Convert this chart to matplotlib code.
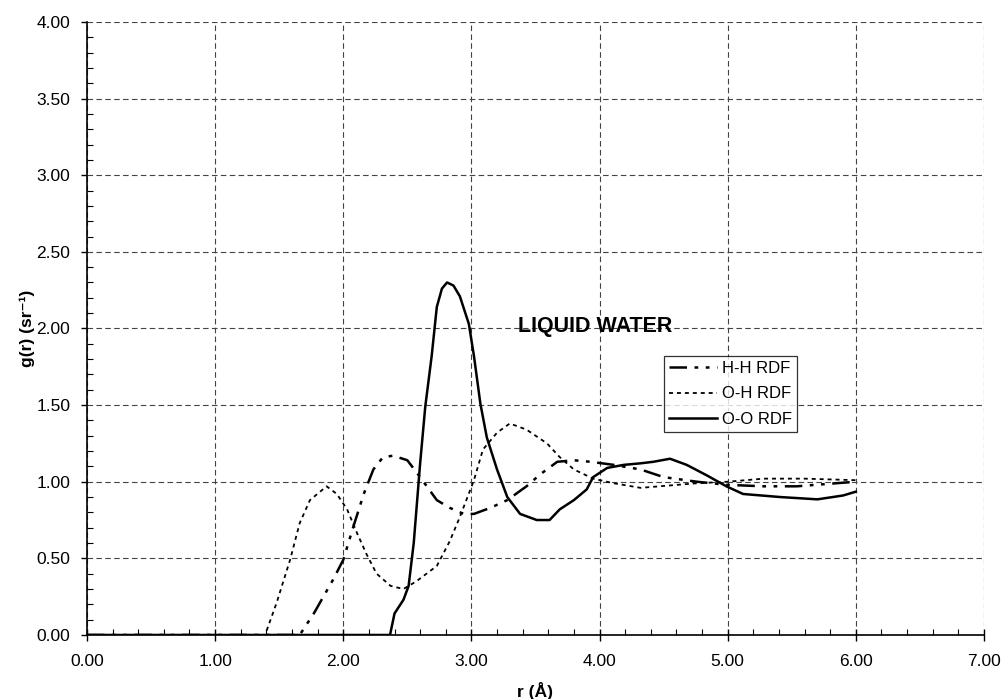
import matplotlib
matplotlib.use("Agg")
import matplotlib.pyplot as plt
from matplotlib.ticker import MultipleLocator, FormatStrFormatter

plt.rcParams['font.family'] = ['Liberation Sans', 'DejaVu Sans']

# H-H radial distribution function
hh_r = [0.0, 1.66, 1.77, 1.845, 1.92, 2.00, 2.08, 2.16, 2.235, 2.31, 2.39, 2.50, 2.60, 2.73,
        2.83, 2.94, 3.02, 3.15, 3.28, 3.43, 3.54, 3.67, 3.80, 3.93, 4.11, 4.32, 4.50, 4.76,
        4.99, 5.28, 5.54, 6.00]
hh_g = [0.0, 0.0, 0.14, 0.25, 0.36, 0.49, 0.71, 0.92, 1.08, 1.16, 1.17, 1.14, 1.03, 0.88,
        0.83, 0.79, 0.79, 0.83, 0.88, 0.97, 1.05, 1.13, 1.14, 1.13, 1.11, 1.08, 1.03, 1.00,
        0.98, 0.97, 0.97, 1.00]

# O-H radial distribution function
oh_r = [0.0, 1.39, 1.48, 1.585, 1.66, 1.74, 1.87, 1.95, 2.03, 2.11, 2.18, 2.26, 2.37, 2.47,
        2.57, 2.73, 2.83, 2.91, 3.02, 3.09, 3.20, 3.30, 3.43, 3.59, 3.69, 3.80, 3.95, 4.11,
        4.32, 4.76, 5.00, 5.28, 5.60, 6.00]
oh_g = [0.0, 0.0, 0.21, 0.49, 0.73, 0.88, 0.97, 0.92, 0.82, 0.66, 0.53, 0.40, 0.32, 0.30,
        0.35, 0.45, 0.61, 0.77, 1.01, 1.21, 1.32, 1.38, 1.34, 1.25, 1.16, 1.08, 1.02, 0.99,
        0.96, 0.99, 1.00, 1.02, 1.02, 1.01]

# O-O radial distribution function
oo_r = [0.0, 2.365, 2.40, 2.47, 2.51, 2.55, 2.60, 2.64, 2.69, 2.73, 2.77, 2.81, 2.86, 2.91,
        2.98, 3.02, 3.07, 3.12, 3.20, 3.28, 3.38, 3.51, 3.61, 3.69, 3.80, 3.90, 3.95, 4.06,
        4.19, 4.32, 4.42, 4.55, 4.68, 4.84, 4.99, 5.12, 5.41, 5.70, 5.90, 6.00]
oo_g = [0.0, 0.0, 0.14, 0.23, 0.32, 0.60, 1.12, 1.49, 1.82, 2.14, 2.26, 2.30, 2.28, 2.21,
        2.03, 1.82, 1.51, 1.29, 1.08, 0.90, 0.79, 0.75, 0.75, 0.82, 0.88, 0.95, 1.03, 1.09,
        1.11, 1.12, 1.13, 1.15, 1.11, 1.04, 0.97, 0.92, 0.90, 0.885, 0.91, 0.935]

fig = plt.figure(figsize=(10.02, 6.99), dpi=100)
ax = fig.add_axes([0.0868, 0.0916, 0.8952, 0.877])

ax.plot(hh_r, hh_g, color='black', lw=1.8, dashes=(7, 3, 1.5, 3, 1.5, 3), label='H-H RDF')
ax.plot(oh_r, oh_g, color='black', lw=1.3, dashes=(2.2, 2.2), label='O-H RDF')
ax.plot(oo_r, oo_g, color='black', lw=1.8, label='O-O RDF')

ax.set_xlim(0, 7)
ax.set_ylim(0, 4)
ax.xaxis.set_major_locator(MultipleLocator(1.0))
ax.xaxis.set_minor_locator(MultipleLocator(0.2))
ax.yaxis.set_major_locator(MultipleLocator(0.5))
ax.yaxis.set_minor_locator(MultipleLocator(0.1))
ax.xaxis.set_major_formatter(FormatStrFormatter('%.2f'))
ax.yaxis.set_major_formatter(FormatStrFormatter('%.2f'))

ax.grid(True, which='major', color='#444444', lw=0.8, dashes=(5, 3))
ax.set_axisbelow(True)
for s in ['top', 'right']:
    ax.spines[s].set_visible(False)
for s in ['left', 'bottom']:
    ax.spines[s].set_linewidth(1.2)

ax.tick_params(axis='x', which='major', direction='inout', length=8, width=1, pad=10, labelsize=12.5)
ax.tick_params(axis='x', which='minor', direction='in', length=4, width=0.8)
ax.tick_params(axis='y', which='major', direction='out', length=4, width=1, pad=8, labelsize=12.5)
ax.tick_params(axis='y', which='minor', direction='in', length=4, width=0.8)

ax.set_xlabel('r (Å)', fontsize=12.5, fontweight='bold', labelpad=9)
ax.set_ylabel('g(r) (sr⁻¹)', fontsize=12.5, fontweight='bold', labelpad=1)

ax.text(3.36, 2.01, 'LIQUID WATER', fontsize=15.5, fontweight='bold', ha='left', va='center')

leg = ax.legend(loc='upper left', bbox_to_anchor=(0.643, 0.455), fontsize=12,
                frameon=True, fancybox=False, edgecolor='black', handlelength=2.9,
                handletextpad=0.3, borderpad=0.3, labelspacing=0.62, borderaxespad=0)
leg.get_frame().set_linewidth(0.9)

fig.savefig('out.png', dpi=100)
